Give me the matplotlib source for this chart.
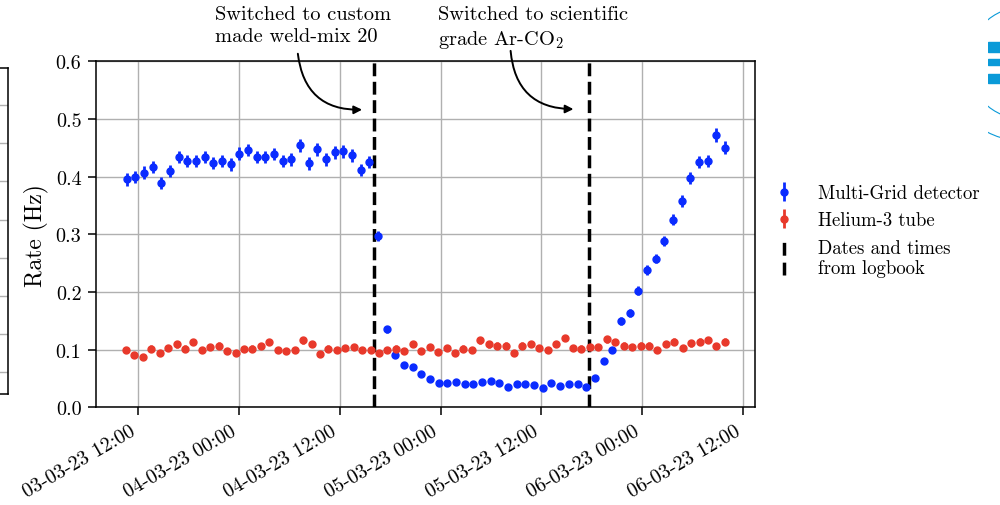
"""
Multi-Grid vs Helium-3 rates during the gas switch test (March 2023).
"""

import matplotlib
matplotlib.use("Agg")
import matplotlib.pyplot as plt
import matplotlib.dates as mdates
import numpy as np
import pandas as pd
from matplotlib.legend_handler import HandlerBase
from matplotlib.lines import Line2D
from matplotlib.patches import Circle, Rectangle
from matplotlib.ticker import FormatStrFormatter

plt.rcParams["font.family"] = "serif"
plt.rcParams["font.serif"] = ["cmr10"]
plt.rcParams["mathtext.fontset"] = "cm"
plt.rcParams["axes.formatter.use_mathtext"] = True
plt.rcParams["font.size"] = 14

# Multi-Grid detector rate (Hz), ~1 h bins
mg_start, mg_stop = "2023-03-03 10:37", "2023-03-06 09:51"
mg_rate = [0.395, 0.399, 0.407, 0.417, 0.389, 0.410, 0.434, 0.427, 0.427, 0.434,
           0.424, 0.427, 0.421, 0.440, 0.446, 0.434, 0.434, 0.439, 0.427, 0.430,
           0.454, 0.423, 0.447, 0.430, 0.442, 0.444, 0.437, 0.412, 0.425, 0.297,
           0.135, 0.091, 0.074, 0.070, 0.058, 0.050, 0.042, 0.042, 0.044, 0.040,
           0.040, 0.044, 0.046, 0.042, 0.036, 0.040, 0.040, 0.039, 0.034, 0.042,
           0.037, 0.040, 0.040, 0.036, 0.051, 0.080, 0.099, 0.150, 0.164, 0.202,
           0.238, 0.258, 0.288, 0.325, 0.358, 0.397, 0.425, 0.427, 0.472, 0.450]

# Helium-3 tube rate (Hz), 1 h bins
he_start, he_stop = "2023-03-03 10:32", "2023-03-06 09:51"
he_rate = [0.100, 0.091, 0.088, 0.102, 0.094, 0.103, 0.109, 0.102, 0.113, 0.100,
           0.105, 0.107, 0.098, 0.094, 0.101, 0.102, 0.106, 0.113, 0.099, 0.097,
           0.100, 0.116, 0.110, 0.092, 0.102, 0.099, 0.103, 0.105, 0.100, 0.100,
           0.094, 0.100, 0.102, 0.097, 0.110, 0.098, 0.104, 0.096, 0.103, 0.094,
           0.102, 0.100, 0.116, 0.109, 0.107, 0.107, 0.094, 0.107, 0.110, 0.103,
           0.099, 0.110, 0.120, 0.103, 0.102, 0.105, 0.104, 0.118, 0.113, 0.107,
           0.104, 0.107, 0.107, 0.100, 0.110, 0.114, 0.103, 0.111, 0.114, 0.117,
           0.106, 0.114]

bin_time = 3600.0  # s, used for the counting errors

logbook = ["2023-03-04 16:05", "2023-03-05 17:43"]
notes = ["Switched to custom\nmade weld-mix 20",
         "Switched to scientific\ngrade Ar-CO$_2$"]

mg_color = "#0a2bff"
he_color = "#e8392b"


class VLineHandler(HandlerBase):
    # vertical dashed line in the legend, spanning the two text lines
    def create_artists(self, legend, orig_handle, xdescent, ydescent,
                       width, height, fontsize, trans):
        x = width / 2 - xdescent
        ext = 0.52 * fontsize
        line = Line2D([x, x], [-ydescent - ext, height - ydescent + ext],
                      color="k", lw=2.5, dashes=(3.7, 2.0), transform=trans)
        return [line]


def to_num(s):
    return mdates.date2num(pd.Timestamp(s))


mg_t = pd.date_range(mg_start, mg_stop, periods=len(mg_rate))
he_t = pd.date_range(he_start, he_stop, periods=len(he_rate))
mg_err = np.sqrt(np.array(mg_rate) * bin_time) / bin_time
he_err = np.sqrt(np.array(he_rate) * bin_time) / bin_time

fig = plt.figure(figsize=(10, 5.06), dpi=100)
ax = fig.add_axes([0.096, 0.193, 0.659, 0.684])

eb_mg = ax.errorbar(mg_t, mg_rate, yerr=mg_err, fmt="o", color=mg_color,
                    ms=5, elinewidth=2, capsize=0, zorder=3)
eb_he = ax.errorbar(he_t, he_rate, yerr=he_err, fmt="o", color=he_color,
                    ms=5, elinewidth=2, capsize=0, zorder=3)
vlines = [ax.axvline(pd.Timestamp(t), color="k", ls="--", lw=2.5, zorder=2)
          for t in logbook]

ax.set_xlim(to_num("2023-03-03 06:58"), to_num("2023-03-06 13:26"))
ax.set_ylim(0, 0.6)
ax.set_yticks(np.arange(0, 0.61, 0.1))
ax.yaxis.set_major_formatter(FormatStrFormatter("%.1f"))
ax.xaxis.set_major_locator(mdates.HourLocator(byhour=[0, 12]))
ax.xaxis.set_major_formatter(mdates.DateFormatter("%d-%m-%y %H:%M"))
ax.tick_params(length=5.5, width=1.1, labelsize=14.5, pad=5)
plt.setp(ax.get_xticklabels(), rotation=30, ha="right")
ax.set_ylabel("Rate (Hz)", fontsize=17, labelpad=5)
ax.grid(True, color="#b0b0b0", lw=1.0)
ax.set_axisbelow(True)
for sp in ax.spines.values():
    sp.set_linewidth(1.1)

# annotations for the gas switches
ax.text(to_num("2023-03-03 21:07"), 0.697, notes[0], ha="left", va="top",
        fontsize=14.7, linespacing=1.3, clip_on=False)
ax.text(to_num("2023-03-04 23:39"), 0.697, notes[1], ha="left", va="top",
        fontsize=14.7, linespacing=1.3, clip_on=False)
arrow = dict(arrowstyle="-|>", color="k", lw=1.4, mutation_scale=12,
             connectionstyle="arc3,rad=0.45", shrinkA=0, shrinkB=0)
ax.annotate("", xy=(to_num("2023-03-04 14:39"), 0.516),
            xytext=(to_num("2023-03-04 07:00"), 0.613),
            arrowprops=arrow, annotation_clip=False)
ax.annotate("", xy=(to_num("2023-03-05 15:49"), 0.517),
            xytext=(to_num("2023-03-05 08:20"), 0.618),
            arrowprops=arrow, annotation_clip=False)

ax.legend([eb_mg, eb_he, vlines[0]],
          ["Multi-Grid detector", "Helium-3 tube", "Dates and times\nfrom logbook"],
          handler_map={vlines[0]: VLineHandler()},
          loc="center left", bbox_to_anchor=(0.99, 0.51), frameon=False,
          fontsize=13.5, labelspacing=0.5)

# edge of the neighbouring panel, cut off on the left
nb = fig.add_axes([-0.3, 1 - 395 / 506, 0.308, (395 - 69) / 506])
nb.set_ylim(-0.578, 7.978)
nb.set_yticks(range(8))
nb.set_xticks([])
nb.tick_params(left=False, labelleft=False)
nb.grid(True, axis="y", color="#b0b0b0", lw=1.0)
for sp in nb.spines.values():
    sp.set_linewidth(1.1)

# cut-off logo on the right
lg = fig.add_axes([0.988, 0, 0.012, 1])
lg.set_xlim(988, 1000)
lg.set_ylim(506, 0)
lg.axis("off")
logo_blue = "#0a9ad8"
for r in (56, 78):
    lg.add_patch(Circle((1023.5, 64), r, fill=False, ec=logo_blue, lw=0.8))
for y0, h in ((43, 10), (60, 6), (75, 9)):
    lg.add_patch(Rectangle((988, y0), 12, h, color=logo_blue))

fig.savefig("out.png", dpi=100)
